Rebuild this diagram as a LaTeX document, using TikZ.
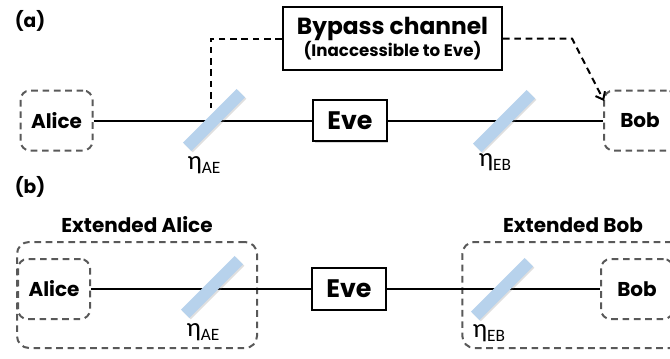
\documentclass[tikz,border=0pt]{standalone}
\usepackage{fontspec}
\setmainfont{Poppins}
\newfontfamily\etafont{Carlito}
\usetikzlibrary{shadows, arrows.meta}
\definecolor{bsblue}{RGB}{183,210,236}
\definecolor{boxgray}{RGB}{89,89,89}
\begin{document}
\begin{tikzpicture}[x=0.75pt, y=-0.75pt,
    party/.style={draw=boxgray, dash pattern=on 5pt off 3.5pt, rounded corners=7pt, line width=1.5pt, font=\bfseries\fontsize{15}{17}\selectfont, minimum width=54pt, minimum height=45pt, inner sep=0pt},
    extparty/.style={draw=boxgray, dash pattern=on 5pt off 3.5pt, rounded corners=9pt, line width=1.5pt, minimum width=180pt, minimum height=79.5pt, inner sep=0pt},
    evebox/.style={draw, line width=1.7pt, fill=white, font=\bfseries\fontsize{19}{21}\selectfont, minimum width=55pt, minimum height=31pt, inner sep=0pt, drop shadow={opacity=0.3, shadow xshift=1.2pt, shadow yshift=-1.2pt}},
    bs/.style={fill=bsblue, minimum width=57pt, minimum height=9pt, inner sep=0pt, rotate=45, drop shadow={opacity=0.25, shadow xshift=1pt, shadow yshift=-1pt}},
    eta/.style={font=\etafont\fontsize{20}{22}\selectfont, inner sep=0pt},
    lbl/.style={font=\bfseries\fontsize{14}{16}\selectfont, inner sep=0pt},
    extlbl/.style={font=\bfseries\fontsize{15}{17}\selectfont, inner sep=0pt},
    beam/.style={line width=1.5pt},
    bypass/.style={dash pattern=on 5pt off 3.5pt, line width=1.5pt}]
\useasboundingbox (0,0) rectangle (670,358);

% (a) bypass channel
\node[lbl] (la) at (30,21) {(a)};
\node[party] (aliceA) at (56.5,120.5) {Alice};
\node[evebox] (eveA) at (350,120.5) {Eve};
\node[party] (bobA) at (640,120.5) {Bob};
\node[draw, line width=1.7pt, fill=white, minimum width=164pt, minimum height=47pt, inner sep=0pt, align=center, drop shadow={opacity=0.3, shadow xshift=1.2pt, shadow yshift=-1.2pt}] (bypass) at (392.5,38.5)
    {\bfseries\fontsize{17.5}{19}\selectfont Bypass channel\\[-1pt]\bfseries\fontsize{12.5}{14}\selectfont (Inaccessible to Eve)};

\draw[beam] (aliceA) -- (eveA);
\draw[beam] (eveA) -- (bobA);
\node[bs] (bsAE) at (214,120) {};
\node[bs] (bsEB) at (504,121) {};
\node[eta] (etaAE) at (204,165) {η\fontsize{13}{15}\selectfont\raisebox{-3pt}{AE}};
\node[eta] (etaEB) at (495,162) {η\fontsize{13}{15}\selectfont\raisebox{-3pt}{EB}};

\coordinate (tap) at (211,108);
\coordinate (bobin) at (604,101);
\draw[bypass] (bypass.west) -| (tap);
\draw[bypass, -{Straight Barb[length=5pt, width=8pt]}] (bypass.east) -- (572,38.5) -- (bobin);

% (b) extended parties
\node[lbl] (lb) at (30,187) {(b)};
\node[extparty] (extalice) at (137,295) {};
\node[extparty, minimum width=166pt] (extbob) at (573,295) {};
\node[extlbl] (extalicelbl) at (137,225) {Extended Alice};
\node[extlbl] (extboblbl) at (573,225) {Extended Bob};
\node[party] (aliceB) at (54,289) {Alice};
\node[evebox] (eveB) at (349,289) {Eve};
\node[party] (bobB) at (637,289) {Bob};

\draw[beam] (aliceB) -- (eveB);
\draw[beam] (eveB) -- (bobB);
\node[bs] (bsAE2) at (212,287) {};
\node[bs] (bsEB2) at (502,289) {};
\node[eta] (etaAE2) at (203,332) {η\fontsize{13}{15}\selectfont\raisebox{-3pt}{AE}};
\node[eta] (etaEB2) at (489,333) {η\fontsize{13}{15}\selectfont\raisebox{-3pt}{EB}};
\end{tikzpicture}
\end{document}
